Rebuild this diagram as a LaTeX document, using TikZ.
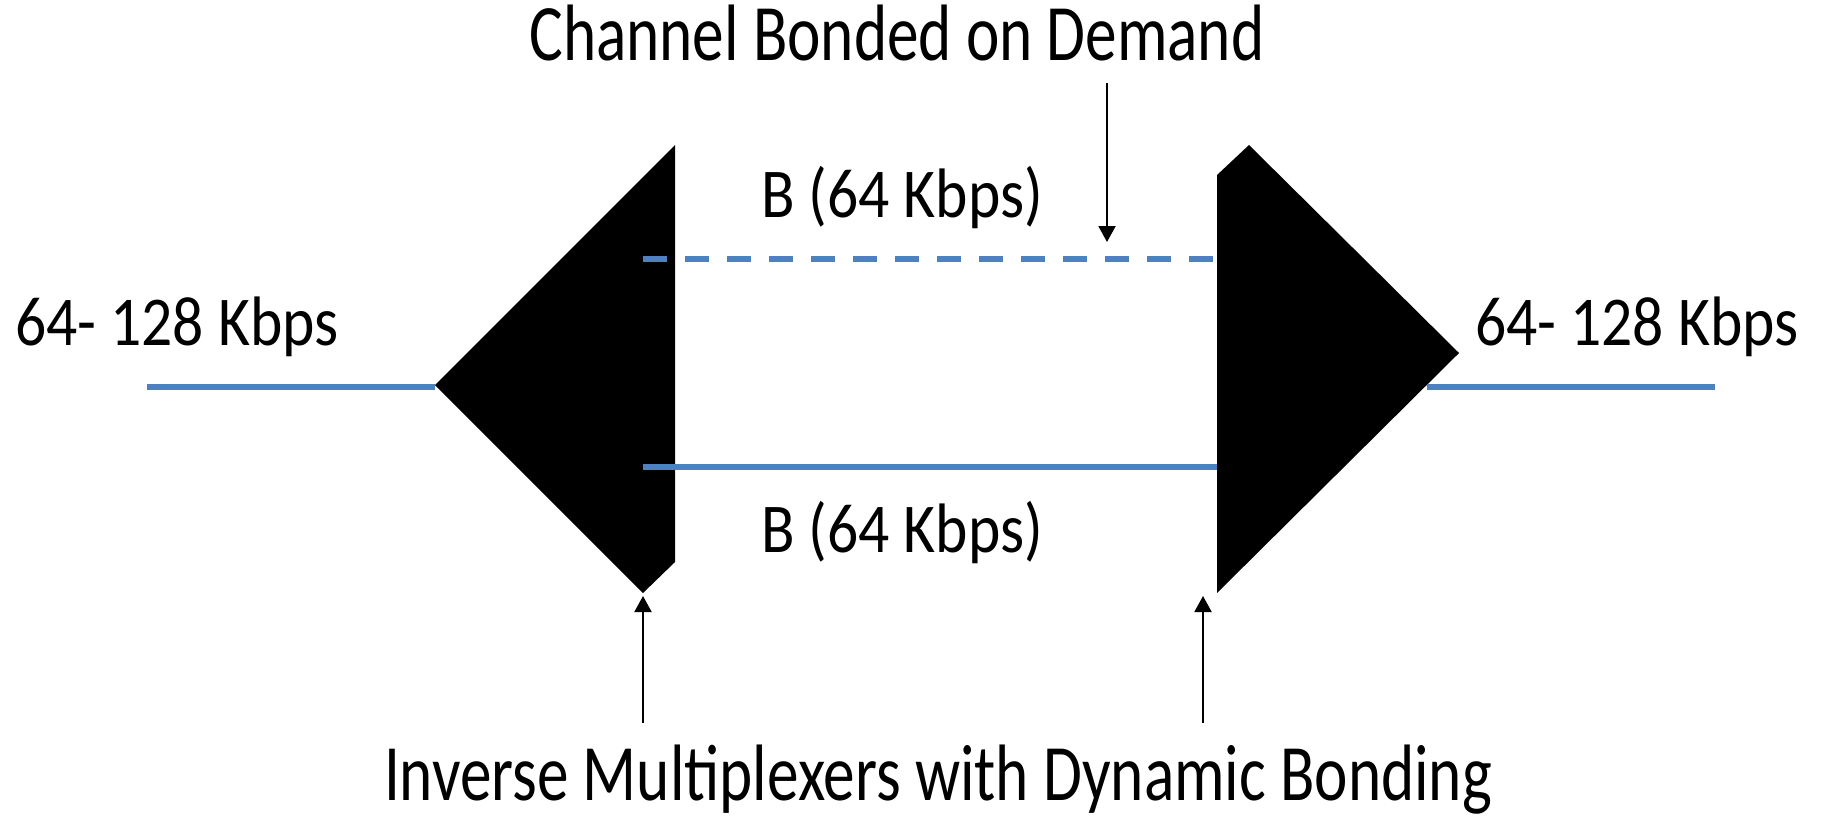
\documentclass[tikz,border=0pt]{standalone}
\usepackage{fontspec}
\setmainfont{Carlito}
\newfontfamily\labelfont[FakeStretch=0.88]{Carlito}
\newfontfamily\titlefont[FakeStretch=0.79]{Carlito}
\usetikzlibrary{arrows.meta}
\definecolor{linkblue}{RGB}{79,129,189}

\begin{document}
\begin{tikzpicture}[x=1pt,y=-1pt]

	\tikzset{link/.style={linkblue,line width=6pt}}
	\tikzset{rate/.style={inner sep=0pt,font=\labelfont\fontsize{70}{84}\selectfont}}
	\tikzset{caption/.style={inner sep=0pt,font=\titlefont\fontsize{80}{96}\selectfont}}
	\tikzset{pointer/.style={line width=2pt,-{Triangle[length=16pt,width=17pt]}}}

	\useasboundingbox (0,0) rectangle (1830,822);

	% the two inverse multiplexers
	\fill (675,145) -- (435,385) -- (643,593) -- (675,562) -- cycle;
	\fill (1217,175) -- (1249,145) -- (1459,353) -- (1217,593) -- cycle;

	\coordinate (lmIn) at (435,387);
	\coordinate (lmUp) at (643,259);
	\coordinate (lmLo) at (643,467);
	\coordinate (lmTip) at (643,596);
	\coordinate (rmOut) at (1427,387);
	\coordinate (rmUp) at (1213,259);
	\coordinate (rmLo) at (1217,467);
	\coordinate (rmTip) at (1203,596);

	\coordinate (lineL) at (147,387);
	\coordinate (lineR) at (1715,387);
	\draw[link] (lineL) -- (lmIn);
	\draw[link] (rmOut) -- (lineR);

	\draw[link,dash pattern=on 24pt off 18pt] (lmUp) -- (rmUp);
	\draw[link] (lmLo) -- (rmLo);

	\node[rate,anchor=base west] (inL) at (15,345) {64- 128 Kbps};
	\node[rate,anchor=base west] (inR) at (1475,345) {64- 128 Kbps};
	\node[rate,anchor=base] (bUp) at (902,217) {B (64 Kbps)};
	\node[rate,anchor=base] (bLo) at (902,552) {B (64 Kbps)};

	\node[caption,anchor=base] (demand) at (897,60) {Channel Bonded on Demand};
	\node[caption,anchor=base] (imux) at (938,800) {Inverse Multiplexers with Dynamic Bonding};

	\coordinate (demTail) at (1107,83);
	\coordinate (demTip) at (1107,242);
	\draw[pointer] (demTail) -- (demTip);

	\coordinate (lmTail) at (643,723);
	\coordinate (rmTail) at (1203,723);
	\draw[pointer] (lmTail) -- (lmTip);
	\draw[pointer] (rmTail) -- (rmTip);

\end{tikzpicture}
\end{document}
